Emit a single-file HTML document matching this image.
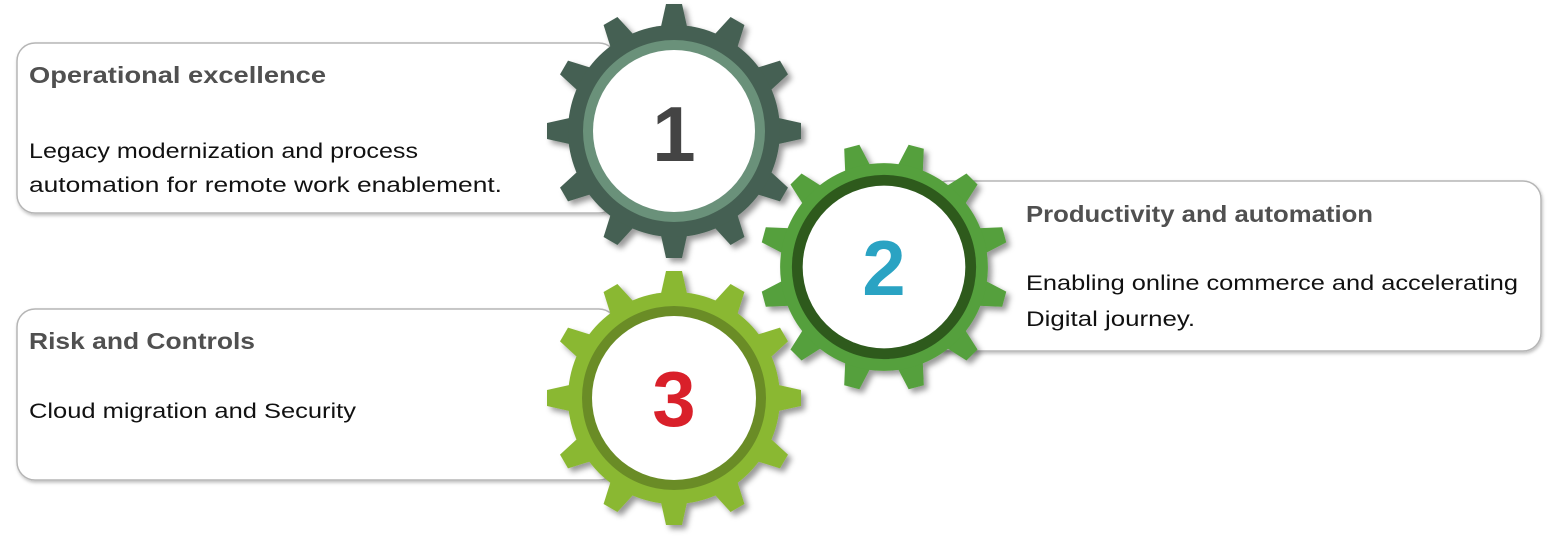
<!DOCTYPE html>
<html><head><meta charset="utf-8"><style>
html,body{margin:0;padding:0;background:#fff;}
svg{display:block;}
text{font-family:"Liberation Sans",sans-serif;}
</style></head><body>
<svg width="1559" height="543" viewBox="0 0 1559 543" xmlns="http://www.w3.org/2000/svg">
<defs>
<filter id="sh" x="-20%" y="-20%" width="140%" height="140%"><feDropShadow dx="4" dy="4" stdDeviation="3" flood-color="#000" flood-opacity="0.4"/></filter>
<filter id="bs" x="-5%" y="-10%" width="110%" height="120%"><feDropShadow dx="1" dy="2" stdDeviation="1.5" flood-color="#000" flood-opacity="0.25"/></filter>
<polygon id="t" points="-14,-100 -8,-127 8,-127 14,-100"/>
<g id="teeth">
<use href="#t"/><use href="#t" transform="rotate(30)"/><use href="#t" transform="rotate(60)"/><use href="#t" transform="rotate(90)"/>
<use href="#t" transform="rotate(120)"/><use href="#t" transform="rotate(150)"/><use href="#t" transform="rotate(180)"/><use href="#t" transform="rotate(210)"/>
<use href="#t" transform="rotate(240)"/><use href="#t" transform="rotate(270)"/><use href="#t" transform="rotate(300)"/><use href="#t" transform="rotate(330)"/>
</g>
</defs>

<rect x="17" y="43" width="600" height="170" rx="18" fill="#fff" stroke="#b5b5b5" stroke-width="1.5" filter="url(#bs)"/>
<rect x="17" y="309" width="600" height="171" rx="18" fill="#fff" stroke="#b5b5b5" stroke-width="1.5" filter="url(#bs)"/>
<rect x="930" y="181" width="611" height="170" rx="18" fill="#fff" stroke="#b5b5b5" stroke-width="1.5" filter="url(#bs)"/>

<text x="29" y="83" font-size="23" font-weight="bold" fill="#505050" textLength="297" lengthAdjust="spacingAndGlyphs">Operational excellence</text>
<text x="29" y="158" font-size="21" fill="#111" textLength="389" lengthAdjust="spacingAndGlyphs">Legacy modernization and process</text>
<text x="29" y="192" font-size="21" fill="#111" textLength="473" lengthAdjust="spacingAndGlyphs">automation for remote work enablement.</text>

<text x="29" y="349" font-size="23" font-weight="bold" fill="#505050" textLength="226" lengthAdjust="spacingAndGlyphs">Risk and Controls</text>
<text x="29" y="418" font-size="21" fill="#111" textLength="327" lengthAdjust="spacingAndGlyphs">Cloud migration and Security</text>

<text x="1026" y="222" font-size="23" font-weight="bold" fill="#505050" textLength="347" lengthAdjust="spacingAndGlyphs">Productivity and automation</text>
<text x="1026" y="290" font-size="21" fill="#111" textLength="492" lengthAdjust="spacingAndGlyphs">Enabling online commerce and accelerating</text>
<text x="1026" y="326" font-size="21" fill="#111" textLength="169" lengthAdjust="spacingAndGlyphs">Digital journey.</text>

<!-- gear 1 -->
<g transform="translate(674,131)" filter="url(#sh)">
<g fill="#456152"><use href="#teeth"/><circle r="106"/></g>
<circle r="91" fill="#6a917a"/>
<circle r="81" fill="#fff"/>
</g>
<text x="674" y="161" font-size="78" font-weight="bold" fill="#444" text-anchor="middle">1</text>

<!-- gear 3 -->
<g transform="translate(674,398)" filter="url(#sh)">
<g fill="#8ab833"><use href="#teeth"/><circle r="106"/></g>
<circle r="92" fill="#6a8c28"/>
<circle r="82" fill="#fff"/>
</g>
<text x="674" y="426" font-size="78" font-weight="bold" fill="#d9202a" text-anchor="middle">3</text>

<!-- gear 2 -->
<g transform="translate(884,267) scale(0.98)" filter="url(#sh)">
<g fill="#54a03c" transform="rotate(15)"><use href="#teeth"/><circle r="106"/></g>
<circle r="94" fill="#2d5a1f"/>
<circle r="83" fill="#fff"/>
</g>
<text x="884" y="295" font-size="78" font-weight="bold" fill="#2aa3c3" text-anchor="middle">2</text>
</svg>
</body></html>
